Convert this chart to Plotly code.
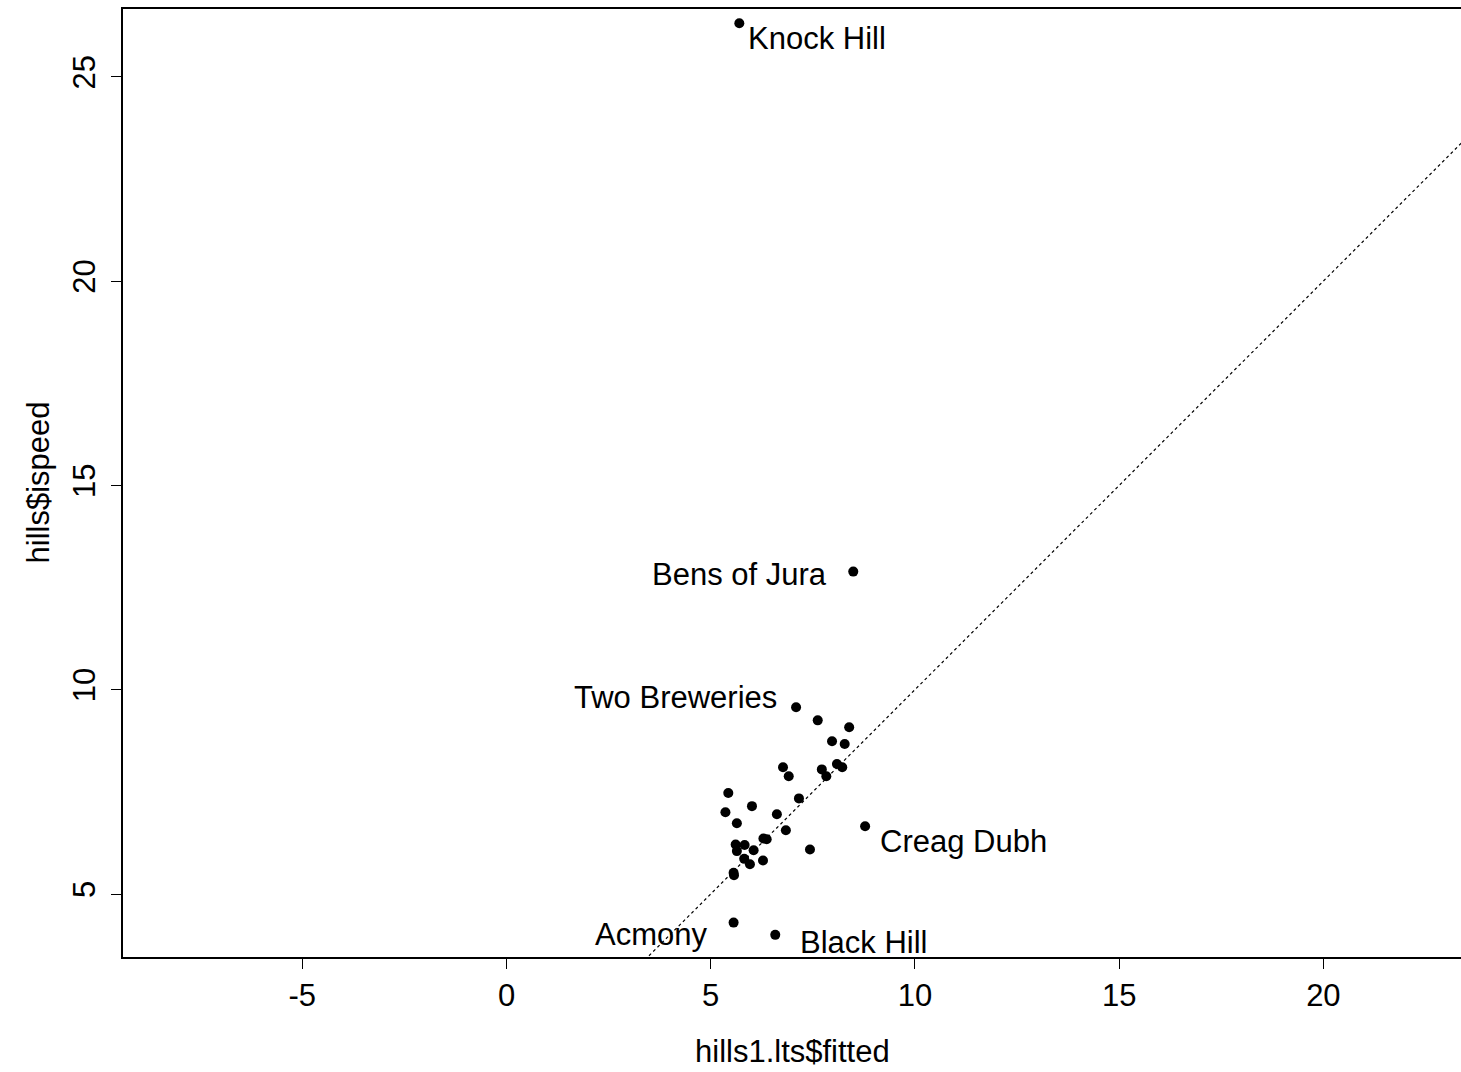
import plotly.graph_objects as go

# ---- data ----
fitted = [5.70, 8.49, 7.09, 5.56, 6.58, 8.78,
          7.62, 8.39, 7.97, 8.28, 6.77, 6.91, 7.72, 7.83, 8.09, 8.22,
          5.43, 7.16, 5.36, 6.01, 5.64, 6.62, 6.84, 6.29, 6.37,
          5.61, 5.83, 5.64, 6.05, 7.43, 5.82, 5.96, 6.28, 5.56, 5.57]
ispeed = [26.31, 12.89, 9.57, 4.30, 4.00, 6.66,
          9.25, 9.08, 8.74, 8.67, 8.10, 7.88, 8.05, 7.88, 8.18, 8.10,
          7.47, 7.34, 7.00, 7.15, 6.73, 6.95, 6.56, 6.36, 6.34,
          6.21, 6.20, 6.05, 6.07, 6.09, 5.86, 5.73, 5.82, 5.52, 5.46]
label_names = ["Knock Hill", "Bens of Jura", "Two Breweries",
               "Acmony", "Black Hill", "Creag Dubh"]
x_ticks = [-5, 0, 5, 10, 15, 20]
x_tick_text = ["-5", "0", "5", "10", "15", "20"]
y_ticks = [5, 10, 15, 20, 25]

# ---- layout settings ----
XR = [-9.39, 23.37]
YR = [3.458, 26.66]
FONT = "Liberation Sans, Arial, sans-serif"
FS = 31
# label placement: (xanchor, xshift px, yshift px)
label_pos = {
    "Knock Hill": ("left", 7, -15),
    "Bens of Jura": ("right", -24, -3),
    "Two Breweries": ("right", -17, 10),
    "Acmony": ("right", -25, -12),
    "Black Hill": ("left", 23, -8),
    "Creag Dubh": ("left", 13, -15),
}

fig = go.Figure()

# identity line y = x (dotted), spanning the axis range
lo = min(XR[0], YR[0])
hi = max(XR[1], YR[1])
fig.add_trace(go.Scatter(x=[lo, hi], y=[lo, hi], mode="lines",
                         line=dict(color="black", width=1.2, dash="dot"),
                         hoverinfo="skip", showlegend=False))

fig.add_trace(go.Scatter(x=fitted, y=ispeed, mode="markers",
                         marker=dict(color="black", size=10),
                         showlegend=False))

for i, name in enumerate(label_names):
    xa, xs, ys = label_pos[name]
    fig.add_annotation(x=fitted[i], y=ispeed[i], text=name, showarrow=False,
                       xanchor=xa, yanchor="middle", xshift=xs, yshift=ys,
                       font=dict(family=FONT, size=FS, color="black"))

# axis titles
fig.add_annotation(xref="paper", yref="paper", x=0.5, y=0, yanchor="top",
                   yshift=-75, text="hills1.lts$fitted", showarrow=False,
                   font=dict(family=FONT, size=FS, color="black"))
fig.add_annotation(xref="paper", yref="paper", x=0, y=0.5, xanchor="right",
                   xshift=-66, text="hills$ispeed", textangle=-90, showarrow=False,
                   font=dict(family=FONT, size=FS, color="black"))

fig.update_layout(
    width=1461, height=1072,
    margin=dict(l=123, r=0, t=9, b=115),
    paper_bgcolor="white", plot_bgcolor="white",
    font=dict(family=FONT, size=FS, color="black"),
    xaxis=dict(range=XR, tickvals=x_ticks, ticktext=x_tick_text,
               ticks="outside", ticklen=10,
               tickwidth=1, tickcolor="black", showgrid=False, zeroline=False,
               showline=True, mirror=True, linecolor="black", linewidth=1.5,
               tickfont=dict(family=FONT, size=FS, color="black")),
    yaxis=dict(range=YR, tickvals=y_ticks, ticks="outside", ticklen=10,
               tickwidth=1, tickcolor="black", showgrid=False, zeroline=False,
               showline=True, mirror=False, linecolor="black", linewidth=1.5,
               tickangle=-90, ticklabelstandoff=4,
               tickfont=dict(family=FONT, size=FS, color="black")),
)

fig.write_html("out.html")
